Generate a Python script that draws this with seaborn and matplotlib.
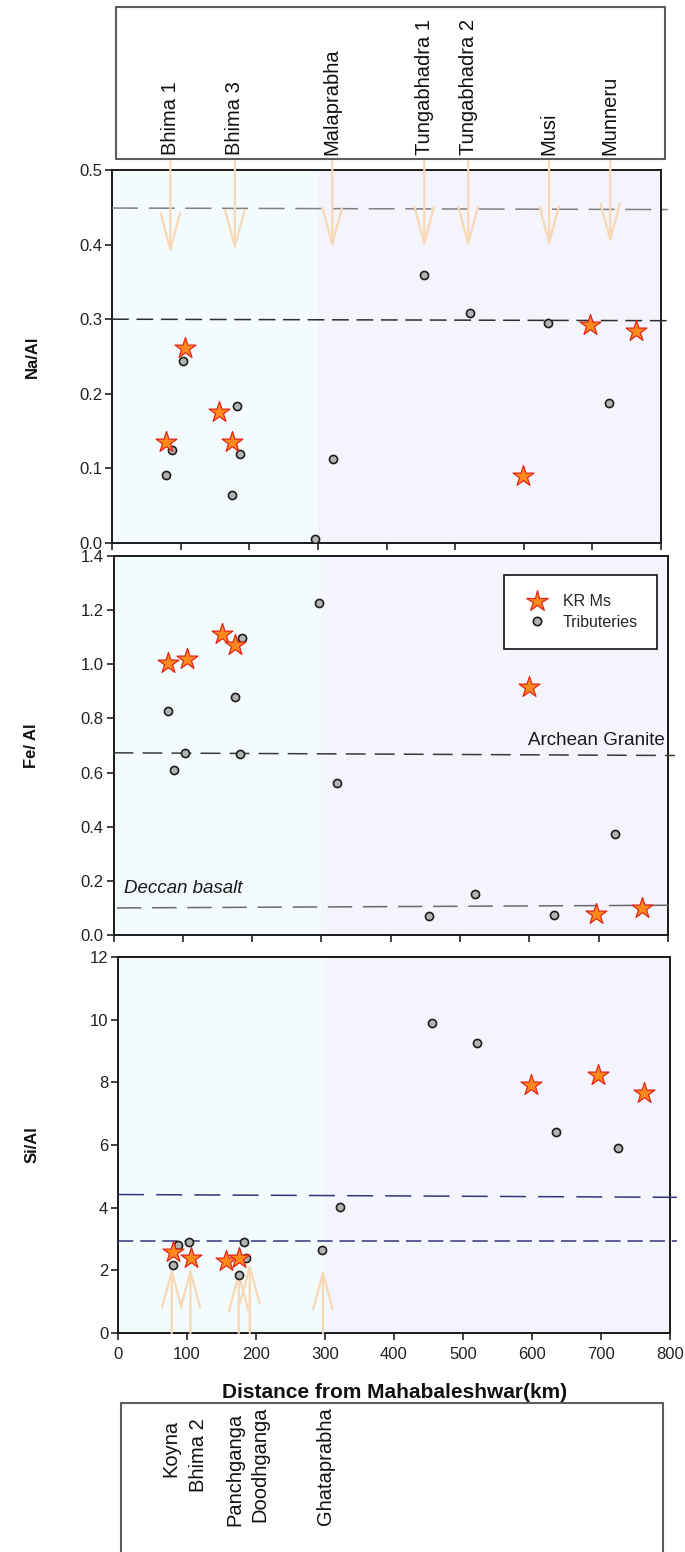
import numpy as np
import pandas as pd
import matplotlib
matplotlib.use("Agg")
import matplotlib.pyplot as plt
import matplotlib.transforms as mtransforms
from matplotlib.patches import Rectangle
from matplotlib.lines import Line2D
import seaborn as sns

# ---------------- data ----------------
# Krishna River main-stream samples (KR Ms)
kr_dist = [79, 106, 156, 175, 599, 696, 763]
kr_na_al = [0.135, 0.262, 0.175, 0.135, 0.090, 0.292, 0.284]
kr_fe_al = [1.005, 1.020, 1.113, 1.072, 0.915, 0.078, 0.101]
kr_si_al = [2.58, 2.40, 2.29, 2.40, 7.91, 8.24, 7.65]

# Tributaries
tr_dist = [79, 87, 103, 175, 182, 186, 296, 322, 455, 521, 635, 724]
tr_na_al = [0.091, 0.125, 0.244, 0.064, 0.184, 0.119, 0.006, 0.113, 0.359, 0.308, 0.295, 0.187]
tr_fe_al = [0.827, 0.611, 0.673, 0.878, 0.668, 1.097, 1.228, 0.561, 0.069, 0.150, 0.074, 0.372]
tr_si_al = [2.16, 2.82, 2.92, 1.86, 2.90, 2.40, 2.66, 4.01, 9.88, 9.27, 6.41, 5.91]

# confluence arrows (top panel, pointing down)
top_names = ["Bhima 1", "Bhima 3", "Malaprabha", "Tungabhadra 1", "Tungabhadra 2", "Musi", "Munneru"]
top_arrow_x = [85, 179, 321, 455, 519, 637, 726]
top_arrow_tip = [0.388, 0.392, 0.395, 0.396, 0.396, 0.397, 0.401]

# confluence arrows (bottom panel, pointing up)
bot_names = ["Koyna", "Bhima 2", "Panchganga", "Doodhganga", "Ghataprabha"]
bot_arrow_x = [78, 105, 175, 191, 297]
bot_arrow_tip = [2.10, 2.10, 2.00, 2.25, 2.05]
bot_label_x = [77, 117, 169, 206, 301]
bot_label_top_px = [1420, 1418, 1413, 1407, 1407]

# reference lines (left value, right value)
na_refs = [(0.449, 0.447), (0.300, 0.298)]
fe_refs = [(0.673, 0.663), (0.100, 0.110)]
si_refs = [(4.42, 4.33), (2.93, 2.93)]

x_ticks = list(range(0, 801, 100))
boundary_km = 300

# ---------------- style ----------------
sns.set_style("ticks")
plt.rcParams["font.family"] = ["Liberation Sans", "DejaVu Sans"]
plt.rcParams["axes.linewidth"] = 1.4

W, H = 685, 1552
fig = plt.figure(figsize=(W / 100, H / 100), dpi=100)


def fax(l, t, r, b):
    return fig.add_axes([l / W, 1 - b / H, (r - l) / W, (b - t) / H])


ax1 = fax(112, 170, 661, 543)
ax2 = fax(113.5, 556, 668, 935)
ax3 = fax(118, 957, 670, 1333)

LEFT_BG = "#f3fbfc"
RIGHT_BG = "#f4f4fc"
STAR_FACE = "#ff8a1c"
STAR_EDGE = "#e3261c"
CIRC_FACE = "#b3b3b3"
CIRC_EDGE = "#1e1e1e"
ARROW_C = "#f8d8b4"

panels = [
    (ax1, kr_na_al, tr_na_al, (0, 0.5), np.arange(0, 0.51, 0.1), "{:.1f}"),
    (ax2, kr_fe_al, tr_fe_al, (0, 1.4), np.arange(0, 1.41, 0.2), "{:.1f}"),
    (ax3, kr_si_al, tr_si_al, (0, 12), np.arange(0, 12.1, 2), "{:.0f}"),
]

for ax, kr, tr, ylim, yt, fmt in panels:
    ax.set_facecolor(RIGHT_BG)
    ax.axvspan(0, boundary_km, color=LEFT_BG, zorder=0, lw=0)
    df_kr = pd.DataFrame({"d": kr_dist, "v": kr})
    df_tr = pd.DataFrame({"d": tr_dist, "v": tr})
    sns.scatterplot(data=df_tr, x="d", y="v", ax=ax, marker="o", s=34,
                    color=CIRC_FACE, edgecolor=CIRC_EDGE, linewidth=1.2, zorder=4)
    sns.scatterplot(data=df_kr, x="d", y="v", ax=ax, marker="*", s=250,
                    color=STAR_FACE, edgecolor=STAR_EDGE, linewidth=0.9, zorder=5)
    ax.set_xlim(0, 800)
    ax.set_ylim(*ylim)
    ax.set_xticks(x_ticks)
    ax.set_yticks(yt)
    ax.set_yticklabels([fmt.format(v) for v in yt])
    ax.set_xlabel("")
    ax.set_ylabel("")
    ax.tick_params(direction="out", length=5, width=1.2, labelsize=12,
                   color="#222222", labelcolor="#222222", pad=2)
    for s in ax.spines.values():
        s.set_visible(True)
        s.set_color("#1a1a1a")

ax1.tick_params(axis="x", labelbottom=False)
ax2.tick_params(axis="x", labelbottom=False)
ax3.tick_params(axis="x", pad=5)

# reference lines
ext = 810


def ref_line(ax, pair, color, dashes, x0=0):
    ax.plot([x0, ext], list(pair), color=color, lw=1.1, dashes=dashes,
            clip_on=False, zorder=3)


ref_line(ax1, na_refs[0], "#808080", (17, 7))
ref_line(ax1, na_refs[1], "#2e2e2e", (11, 5))
ref_line(ax2, fe_refs[0], "#3a3a3a", (13, 6))
ref_line(ax2, fe_refs[1], "#6a6a6a", (16, 7), x0=5)
ref_line(ax3, si_refs[0], "#34347e", (17, 8))
ref_line(ax3, si_refs[1], "#34347e", (10, 4.5))

ax2.text(795, 0.72, "Archean Granite", ha="right", va="center", fontsize=13.5,
         color="#1a1a1a", zorder=6)
ax2.text(15, 0.172, "Deccan basalt", ha="left", va="center", fontsize=13.5,
         style="italic", color="#1a1a1a", zorder=6)

# legend
h_star = Line2D([], [], marker="*", ls="", markersize=16, markerfacecolor=STAR_FACE,
                markeredgecolor=STAR_EDGE, markeredgewidth=0.9)
h_circ = Line2D([], [], marker="o", ls="", markersize=6, markerfacecolor=CIRC_FACE,
                markeredgecolor=CIRC_EDGE, markeredgewidth=1.2)
leg = ax2.legend([h_star, h_circ], ["KR Ms", "Tributeries"], loc="upper right",
                 bbox_to_anchor=(0.98, 0.95), fontsize=11.5, frameon=True,
                 fancybox=False, edgecolor="#111111", borderpad=1.2,
                 labelspacing=0.35, handletextpad=0.7, handlelength=1.8,
                 borderaxespad=0)
leg.get_frame().set_linewidth(1.2)
leg.get_frame().set_facecolor("white")
leg.get_frame().set_alpha(1)

# arrows in top panel (pointing down, from the label box)
top_start = 0.5 + (170 - 159) / (543 - 170) * 0.5
for x, tip in zip(top_arrow_x, top_arrow_tip):
    ax1.annotate("", xy=(x, tip), xytext=(x, top_start), xycoords="data",
                 annotation_clip=False,
                 arrowprops=dict(arrowstyle="->,head_length=2.6,head_width=0.7",
                                 color=ARROW_C, lw=1.6, mutation_scale=10,
                                 shrinkA=0, shrinkB=0))

# arrows in bottom panel (pointing up)
for x, tip in zip(bot_arrow_x, bot_arrow_tip):
    ax3.annotate("", xy=(x, tip), xytext=(x, 0), xycoords="data",
                 annotation_clip=False,
                 arrowprops=dict(arrowstyle="->,head_length=2.6,head_width=0.7",
                                 color=ARROW_C, lw=1.6, mutation_scale=10,
                                 shrinkA=0, shrinkB=0))

# label boxes
fig.add_artist(Rectangle((116 / W, 1 - 159 / H), (665 - 116) / W, (159 - 7) / H,
                         transform=fig.transFigure, fill=False, ec="#5e5e5e", lw=1.5))
fig.add_artist(Rectangle((121.5 / W, -0.01), (663 - 121.5) / W, 0.01 + (1 - 1403 / H),
                         transform=fig.transFigure, fill=False, ec="#5e5e5e", lw=1.5))

tr_top = mtransforms.blended_transform_factory(ax1.transData, fig.transFigure)
for name, x in zip(top_names, top_arrow_x):
    fig.text(x, 1 - 155 / H, name, transform=tr_top, rotation=90, ha="center",
             va="bottom", fontsize=14.5, color="#111111")

tr_bot = mtransforms.blended_transform_factory(ax3.transData, fig.transFigure)
for name, x, t in zip(bot_names, bot_label_x, bot_label_top_px):
    fig.text(x, 1 - t / H, name, transform=tr_bot, rotation=90, ha="center",
             va="top", fontsize=14.5, color="#111111")

# axis labels
fig.text(395 / W, 1 - 1393 / H, "Distance from Mahabaleshwar(km)", ha="center",
         va="center", fontsize=15, fontweight="bold", color="#111111")
for lab, yc in [("Na/Al", 357), ("Fe/ Al", 746), ("Si/Al", 1145)]:
    fig.text(32 / W, 1 - yc / H, lab, rotation=90, ha="center", va="center",
             fontsize=12, fontweight="bold", color="#111111")

fig.savefig("out.png", dpi=100)
